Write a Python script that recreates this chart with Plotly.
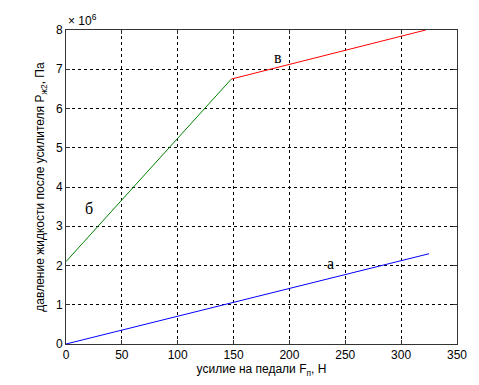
import plotly.graph_objects as go

# Data (pressure in Pa, force in N)
force_a = [0, 325]
press_a = [0.0, 2.30e6]
force_b = [0, 148]
press_b = [2.10e6, 6.75e6]
force_v = [148, 322]
press_v = [6.75e6, 8.00e6]

x_ticks = [0, 50, 100, 150, 200, 250, 300, 350]
y_ticks = [0, 1, 2, 3, 4, 5, 6, 7, 8]
scale = 1e6

labels = [("а", 237, 2.04e6), ("б", 21, 3.46e6), ("в", 190, 7.29e6)]

fig = go.Figure()
for xs, ys, col in [(force_a, press_a, "#0000ff"), (force_b, press_b, "#008000"), (force_v, press_v, "#ff0000")]:
    fig.add_trace(go.Scatter(x=xs, y=[v / scale for v in ys], mode="lines",
                             line=dict(color=col, width=1), showlegend=False))

for t, x, y in labels:
    fig.add_annotation(x=x, y=y / scale, text=t, showarrow=False,
                       font=dict(family="Liberation Serif", size=16, color="black"))

fig.add_annotation(xref="paper", yref="paper", x=0, y=1.0, yanchor="bottom", xanchor="left",
                   text="× 10<sup>6</sup>", showarrow=False,
                   font=dict(family="Liberation Sans", size=12, color="black"), yshift=0)

axis_common = dict(showgrid=True, gridcolor="black", griddash="dot", gridwidth=1,
                   showline=True, linecolor="#333", linewidth=1, mirror="ticks",
                   ticks="inside", ticklen=4, tickcolor="#333", zeroline=False,
                   automargin=False,
                   tickfont=dict(family="Liberation Sans", size=12, color="black"))

fig.update_xaxes(range=[0, 350], tickvals=x_ticks, **axis_common,
                 title=dict(text="усилие на педали F<sub>п</sub>, Н", standoff=2,
                            font=dict(family="Liberation Sans", size=12, color="black")))
fig.update_yaxes(range=[0, 8], tickvals=y_ticks, **axis_common,
                 title=dict(text="давление жидкости после усилителя P<sub>ж2</sub>, Па", standoff=8,
                            font=dict(family="Liberation Sans", size=12, color="black")))

fig.update_layout(width=479, height=385, margin=dict(l=66, r=22, t=30, b=41),
                  plot_bgcolor="white", paper_bgcolor="white")

fig.write_html("out.html", config={"displayModeBar": False},
               post_script="document.body.style.margin='0';")
